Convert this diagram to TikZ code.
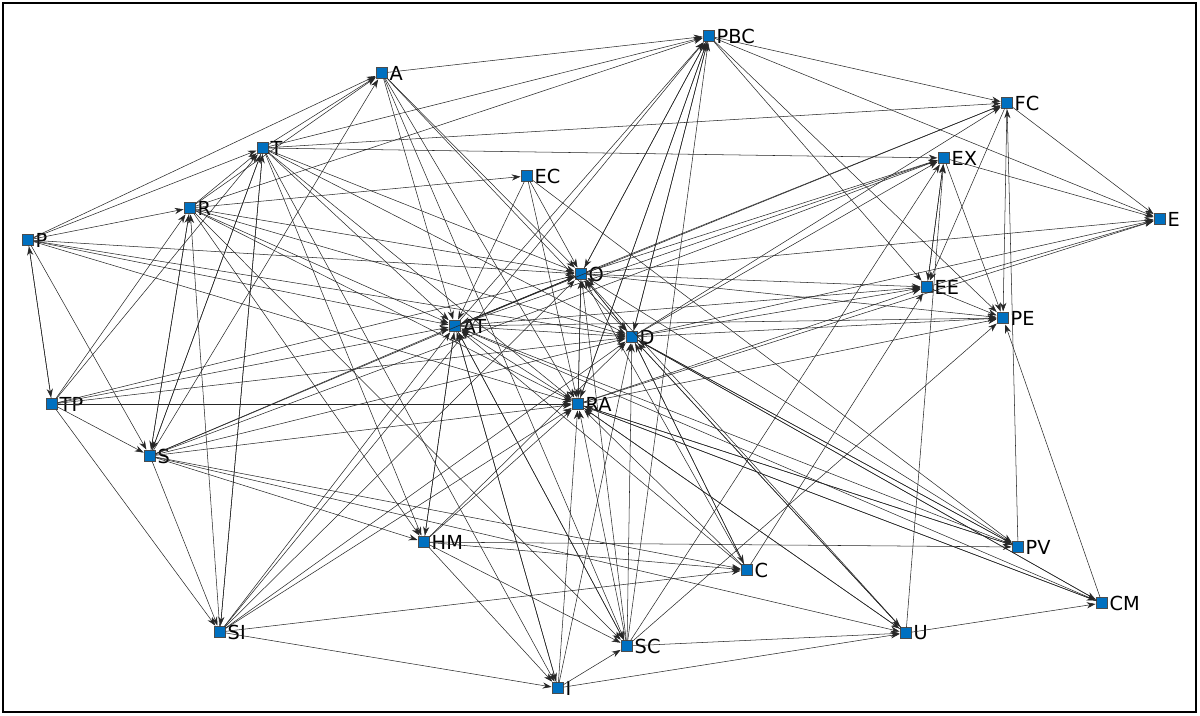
\documentclass[tikz,border=0pt]{standalone}
\usepackage{fontspec}
\setmainfont{DejaVu Sans}
\usetikzlibrary{arrows.meta}
\begin{document}
\begin{tikzpicture}[x=0.02cm,y=-0.02cm,
  nd/.style={draw=black!70,fill={rgb,255:red,0;green,112;blue,192},minimum size=6pt,inner sep=0pt,line width=0.4pt,
    label={[font=\fontsize{11}{13}\selectfont,inner sep=1pt]right:#1}},
  e/.style={-{Stealth[length=5pt,width=3.5pt]},line width=0.3pt,black!85,shorten >=0.5pt}]
\useasboundingbox (0,0) rectangle (1200,716);
\draw[line width=0.8pt] (3,3) rectangle (1196,712);
\node[nd=PBC] (PBC) at (709,36) {};
\node[nd=A] (A) at (382,73) {};
\node[nd=FC] (FC) at (1007,103) {};
\node[nd=T] (T) at (263,148) {};
\node[nd=EX] (EX) at (944,158) {};
\node[nd=EC] (EC) at (527,176) {};
\node[nd=R] (R) at (190,208) {};
\node[nd=E] (E) at (1160,219) {};
\node[nd=P] (P) at (28,240) {};
\node[nd=O] (O) at (581,274) {};
\node[nd=EE] (EE) at (927,287) {};
\node[nd=PE] (PE) at (1003,318) {};
\node[nd=AT] (AT) at (455,326) {};
\node[nd=D] (D) at (632,337) {};
\node[nd=TP] (TP) at (52,404) {};
\node[nd=RA] (RA) at (578,404) {};
\node[nd=S] (S) at (150,456) {};
\node[nd=HM] (HM) at (424,542) {};
\node[nd=PV] (PV) at (1018,547) {};
\node[nd=C] (C) at (747,570) {};
\node[nd=CM] (CM) at (1102,603) {};
\node[nd=SI] (SI) at (220,632) {};
\node[nd=U] (U) at (906,633) {};
\node[nd=SC] (SC) at (627,646) {};
\node[nd=I] (I) at (558,688) {};
\foreach \a/\b in {
P/A,P/T,P/R,P/O,P/AT,P/D,P/TP,P/S,P/RA,
TP/P,TP/R,TP/T,TP/AT,TP/O,TP/D,TP/RA,TP/S,TP/SI,
R/A,R/T,R/PBC,R/EC,R/O,R/AT,R/D,R/RA,R/S,R/HM,R/SC,
T/A,T/PBC,T/EX,T/FC,T/O,T/AT,T/D,T/RA,T/HM,T/I,T/S,T/SI,
A/PBC,A/AT,A/O,A/D,A/RA,A/SC,
S/R,S/T,S/A,S/O,S/AT,S/D,S/RA,S/HM,S/C,S/U,S/SI,S/EX,
SI/R,SI/T,SI/AT,SI/O,SI/D,SI/RA,SI/C,SI/I,SI/PBC,
HM/AT,HM/RA,HM/D,HM/C,HM/PV,HM/SC,HM/I,
I/U,I/RA,I/D,I/AT,I/SC,
SC/RA,SC/AT,SC/D,SC/O,SC/U,SC/PE,SC/EX,SC/PBC,
C/O,C/AT,C/RA,C/D,C/EE,
U/EX,U/CM,U/D,U/O,U/RA,
CM/PE,CM/D,CM/RA,CM/AT,
PV/FC,PV/D,PV/AT,PV/RA,PV/O,
RA/PBC,RA/EE,RA/PE,RA/E,RA/O,RA/AT,RA/CM,RA/PV,RA/U,
D/EX,D/EE,D/PE,D/E,D/O,D/PBC,D/FC,D/U,D/PV,D/CM,D/C,
O/EX,O/E,O/EE,O/PE,O/PBC,O/D,O/RA,O/AT,O/FC,
AT/EX,AT/FC,AT/PBC,AT/O,AT/D,AT/EE,AT/PE,AT/HM,AT/I,AT/SC,
EC/AT,EC/RA,EC/PV,EC/O,
EE/E,EE/EX,EE/PE,EX/E,EX/PE,EX/EE,
PBC/FC,PBC/E,PBC/EE,PBC/PE,PBC/D,PBC/O,PBC/RA,
FC/E,FC/EE,FC/PE}
\draw[e] (\a) -- (\b);
\end{tikzpicture}
\end{document}
